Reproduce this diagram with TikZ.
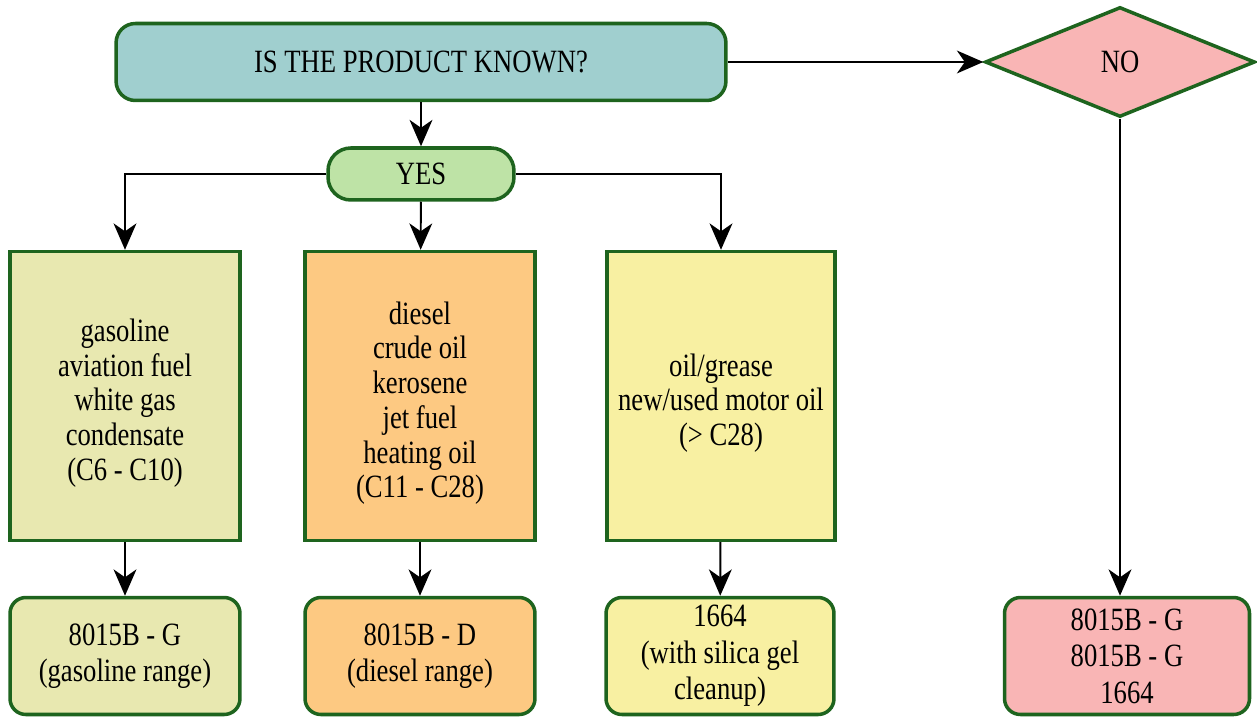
\documentclass[tikz,border=0pt]{standalone}
\usepackage{fontspec}
\setmainfont{Liberation Serif}[FakeStretch=0.82]
\usetikzlibrary{shapes.geometric,arrows.meta}

\definecolor{edgegreen}{HTML}{1E641E}
\definecolor{teal1}{HTML}{A0CFCF}
\definecolor{yesgreen}{HTML}{BEE3A6}
\definecolor{gasfill}{HTML}{E8E8B0}
\definecolor{dieselfill}{HTML}{FDC982}
\definecolor{oilfill}{HTML}{F8F0A2}
\definecolor{nopink}{HTML}{F9B5B5}

\newcommand{\topgap}{\rule{0pt}{21pt}}

\begin{document}
\begin{tikzpicture}[x=0.02cm, y=-0.02cm,
font=\fontsize{18.5}{19.8}\selectfont,
boxnode/.style={rectangle, draw=edgegreen, line width=2pt, align=center, minimum width=4.6cm, minimum height=5.78cm, inner sep=2pt},
roundbox/.style={rectangle, rounded corners=9pt, draw=edgegreen, line width=2pt, align=center, minimum width=4.6cm, minimum height=2.34cm, inner sep=2pt, font=\fontsize{18.5}{20.8}\selectfont},
arr/.style={-{Stealth[length=15pt, width=13pt, inset=4.5pt]}, line width=1.1pt, black}
]

    \useasboundingbox (0,0) rectangle (1257,719);

    % question and answers
    \node [roundbox, fill=teal1, rounded corners=11pt, minimum width=12.2cm, minimum height=1.54cm] (q) at (421,62) {IS THE PRODUCT KNOWN?};
    \node [rectangle, rounded corners=13pt, draw=edgegreen, line width=2pt, fill=yesgreen, minimum width=3.72cm, minimum height=1.04cm] (yes) at (421,174) {YES};
    \node [diamond, draw=edgegreen, line width=2pt, fill=nopink, aspect=2.45, inner sep=0pt, minimum width=5.4cm, minimum height=2.2cm] (no) at (1120,62) {NO};

    % product groups
    \node [boxnode, fill=gasfill] (b1) at (125,396) {\topgap gasoline\\aviation fuel\\white gas\\condensate\\(C6 - C10)};
    \node [boxnode, fill=dieselfill] (b2) at (420,396) {\topgap diesel\\crude oil\\kerosene\\jet fuel\\heating oil\\(C11 - C28)};
    \node [boxnode, fill=oilfill, minimum width=4.56cm] (b3) at (721,396) {\topgap oil/grease\\new/used motor oil\\(> C28)};

    % methods
    \node [roundbox, fill=gasfill] (m1) at (125,656) {8015B - G\\(gasoline range)};
    \node [roundbox, fill=dieselfill] (m2) at (420,656) {8015B - D\\(diesel range)};
    \node [roundbox, fill=oilfill, minimum width=4.56cm] (m3) at (720,656) {1664\\(with silica gel\\cleanup)};
    \node [roundbox, fill=nopink, minimum width=4.9cm] (m4) at (1127,656) {8015B - G\\8015B - G\\1664};

    \draw [arr] (q) -- (yes);
    \draw [arr] (q.east) -- (no.west);
    \draw [arr] (yes.west) -| (b1.north);
    \draw [arr] (yes) -- (b2);
    \draw [arr] (yes.east) -| (b3.north);
    \draw [arr] (b1) -- (m1);
    \draw [arr] (b2) -- (m2);
    \draw [arr] (b3) -- (m3);
    \draw [arr] (no.south) -- (no.south |- m4.north);

\end{tikzpicture}
\end{document}
